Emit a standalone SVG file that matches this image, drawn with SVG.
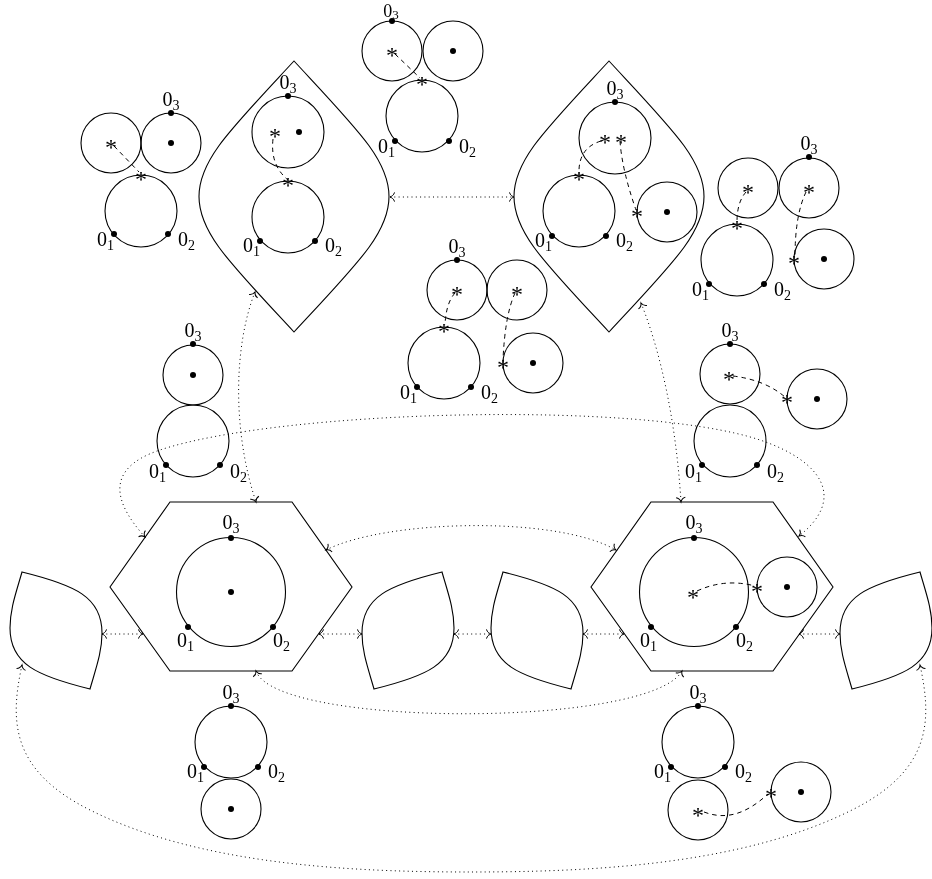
<svg xmlns="http://www.w3.org/2000/svg" width="932" height="879" viewBox="0 0 932 879">
<style>
.sh{fill:none;stroke:#000;stroke-width:1.1}
.dot{fill:#000}
.dash{fill:none;stroke:#000;stroke-width:1;stroke-dasharray:4.5 4}
.conn{fill:none;stroke:#000;stroke-width:1;stroke-dasharray:1 3.3;marker-start:url(#tip);marker-end:url(#tip)}
.lbl{font-family:"Liberation Serif",serif;font-size:20px;fill:#000;filter:url(#gray)}
.sub{font-size:14px}
.e{text-anchor:end}
.m{text-anchor:middle}
.ast{font-family:"Liberation Serif",serif;font-size:24px;text-anchor:middle;fill:#000;filter:url(#gray)}
</style>
<defs>
<filter id="gray" x="-50%" y="-50%" width="200%" height="200%"><feColorMatrix type="saturate" values="0"/></filter>
<marker id="tip" viewBox="-6 -6 8 12" markerWidth="8" markerHeight="12" refX="0" refY="0" orient="auto-start-reverse" markerUnits="userSpaceOnUse" overflow="visible">
<path d="M -4.5 -4.6 C -4 -2 -1.4 -0.4 0 0 C -1.4 0.4 -4 2 -4.5 4.6" fill="none" stroke="#000" stroke-width="1" stroke-dasharray="none"/>
</marker>
</defs>

<g id="connectors">
<path class="conn" d="M 390 197 L 514 197"/>
<path class="conn" d="M 255 292 C 234 345 232 430 256 502"/>
<path class="conn" d="M 641 303 C 660 350 676 420 681 502"/>
<path class="conn" d="M 145 537 C 118 507 100 470 160 450 C 280 410 640 400 760 440 C 825 462 845 500 799 536"/>
<path class="conn" d="M 326 550 C 385 520 555 515 616 550"/>
<path class="conn" d="M 102 634 L 143 634"/>
<path class="conn" d="M 319 634 L 362 634"/>
<path class="conn" d="M 454 634 L 491 634"/>
<path class="conn" d="M 583 634 L 624 634"/>
<path class="conn" d="M 799 634 L 840 634"/>
<path class="conn" d="M 256 671 C 276 728 650 728 682 671"/>
<path class="conn" d="M 22 665 C 10 720 10 770 90 810 C 200 865 350 872 471 872 C 592 872 742 865 852 810 C 932 770 932 720 920 665"/>
</g>

<g id="lensL">
<path class="sh" d="M 294 61 C 230 130 199 160 199 196.5 C 199 233 230 263 294 332 C 358 263 389 233 389 196.5 C 389 160 358 130 294 61 Z"/>
<circle class="sh" cx="288" cy="132" r="36"/>
<circle class="sh" cx="288" cy="217" r="36"/>
<circle class="dot" cx="288" cy="96" r="3"/>
<circle class="dot" cx="299" cy="132" r="3"/>
<circle class="dot" cx="260" cy="241" r="3"/>
<circle class="dot" cx="315" cy="241" r="3"/>
<path class="dash" d="M 273 139 Q 270 165 288 180"/>
<text class="ast" x="275" y="144">*</text>
<text class="ast" x="288" y="193">*</text>
<text class="lbl m" x="288" y="89">0<tspan class="sub" dy="4">3</tspan></text>
<text class="lbl e" x="260" y="252">0<tspan class="sub" dy="4">1</tspan></text>
<text class="lbl" x="325" y="252">0<tspan class="sub" dy="4">2</tspan></text>
</g>

<g id="lensR">
<path class="sh" d="M 609 61 C 545 130 514 160 514 196.5 C 514 233 545 263 609 332 C 673 263 704 233 704 196.5 C 704 160 673 130 609 61 Z"/>
<circle class="sh" cx="615" cy="138" r="36"/>
<circle class="sh" cx="579" cy="211" r="36"/>
<circle class="sh" cx="667" cy="212" r="30"/>
<circle class="dot" cx="615" cy="102" r="3"/>
<circle class="dot" cx="667" cy="212" r="3"/>
<circle class="dot" cx="552" cy="236" r="3"/>
<circle class="dot" cx="606" cy="236" r="3"/>
<path class="dash" d="M 601 141 Q 578 148 579 174"/>
<path class="dash" d="M 620 141 Q 622 170 636 210"/>
<text class="ast" x="605" y="150">*</text>
<text class="ast" x="621" y="150">*</text>
<text class="ast" x="579" y="187">*</text>
<text class="ast" x="637" y="224">*</text>
<text class="lbl m" x="615" y="95">0<tspan class="sub" dy="4">3</tspan></text>
<text class="lbl e" x="552" y="247">0<tspan class="sub" dy="4">1</tspan></text>
<text class="lbl" x="616" y="247">0<tspan class="sub" dy="4">2</tspan></text>
</g>

<g id="groupTop">
<circle class="sh" cx="392" cy="51" r="30"/>
<circle class="sh" cx="453" cy="51" r="30"/>
<circle class="sh" cx="422" cy="116" r="36"/>
<circle class="dot" cx="392" cy="21" r="3"/>
<circle class="dot" cx="453" cy="51" r="3"/>
<circle class="dot" cx="395" cy="141" r="3"/>
<circle class="dot" cx="449" cy="141" r="3"/>
<path class="dash" d="M 395 54 L 420 78"/>
<text class="ast" x="392" y="63">*</text>
<text class="ast" x="422" y="92">*</text>
<text class="lbl m" x="391" y="17" style="font-size:18px">0<tspan class="sub" dy="2" style="font-size:13px">3</tspan></text>
<text class="lbl e" x="395" y="153">0<tspan class="sub" dy="4">1</tspan></text>
<text class="lbl" x="459" y="153">0<tspan class="sub" dy="4">2</tspan></text>
</g>

<g id="groupTL">
<circle class="sh" cx="111" cy="143" r="30"/>
<circle class="sh" cx="171" cy="143" r="30"/>
<circle class="sh" cx="141" cy="211" r="36"/>
<circle class="dot" cx="171" cy="113" r="3"/>
<circle class="dot" cx="171" cy="143" r="3"/>
<circle class="dot" cx="114" cy="234" r="3"/>
<circle class="dot" cx="168" cy="234" r="3"/>
<path class="dash" d="M 114 146 L 139 172"/>
<text class="ast" x="111" y="155">*</text>
<text class="ast" x="141" y="187">*</text>
<text class="lbl m" x="171" y="106">0<tspan class="sub" dy="4">3</tspan></text>
<text class="lbl e" x="114" y="246">0<tspan class="sub" dy="4">1</tspan></text>
<text class="lbl" x="178" y="246">0<tspan class="sub" dy="4">2</tspan></text>
</g>

<g id="groupTR">
<circle class="sh" cx="748" cy="188" r="30"/>
<circle class="sh" cx="809" cy="188" r="30"/>
<circle class="sh" cx="737" cy="260" r="36"/>
<circle class="sh" cx="824" cy="259" r="30"/>
<circle class="dot" cx="809" cy="157" r="3"/>
<circle class="dot" cx="824" cy="259" r="3"/>
<circle class="dot" cx="709" cy="284" r="3"/>
<circle class="dot" cx="764" cy="284" r="3"/>
<path class="dash" d="M 746 192 Q 737 202 737 222"/>
<path class="dash" d="M 806 192 Q 795 215 795 257"/>
<text class="ast" x="748" y="200">*</text>
<text class="ast" x="809" y="200">*</text>
<text class="ast" x="737" y="236">*</text>
<text class="ast" x="794" y="271">*</text>
<text class="lbl m" x="809" y="150">0<tspan class="sub" dy="4">3</tspan></text>
<text class="lbl e" x="709" y="296">0<tspan class="sub" dy="4">1</tspan></text>
<text class="lbl" x="774" y="296">0<tspan class="sub" dy="4">2</tspan></text>
</g>

<g id="groupMid">
<circle class="sh" cx="457" cy="290" r="30"/>
<circle class="sh" cx="517" cy="290" r="30"/>
<circle class="sh" cx="444" cy="363" r="36"/>
<circle class="sh" cx="533" cy="363" r="30"/>
<circle class="dot" cx="457" cy="260" r="3"/>
<circle class="dot" cx="533" cy="363" r="3"/>
<circle class="dot" cx="417" cy="387" r="3"/>
<circle class="dot" cx="471" cy="387" r="3"/>
<path class="dash" d="M 455 293 Q 446 303 445 325"/>
<path class="dash" d="M 515 293 Q 505 315 503 360"/>
<text class="ast" x="457" y="302">*</text>
<text class="ast" x="517" y="302">*</text>
<text class="ast" x="444" y="339">*</text>
<text class="ast" x="503" y="375">*</text>
<text class="lbl m" x="457" y="253">0<tspan class="sub" dy="4">3</tspan></text>
<text class="lbl e" x="417" y="399">0<tspan class="sub" dy="4">1</tspan></text>
<text class="lbl" x="481" y="399">0<tspan class="sub" dy="4">2</tspan></text>
</g>

<g id="fig8L">
<circle class="sh" cx="193" cy="375" r="30"/>
<circle class="sh" cx="193" cy="441" r="36"/>
<circle class="dot" cx="193" cy="344" r="3"/>
<circle class="dot" cx="193" cy="375" r="3"/>
<circle class="dot" cx="166" cy="465" r="3"/>
<circle class="dot" cx="220" cy="465" r="3"/>
<text class="lbl m" x="193" y="337">0<tspan class="sub" dy="4">3</tspan></text>
<text class="lbl e" x="166" y="478">0<tspan class="sub" dy="4">1</tspan></text>
<text class="lbl" x="230" y="478">0<tspan class="sub" dy="4">2</tspan></text>
</g>

<g id="fig8R">
<circle class="sh" cx="730" cy="374" r="30"/>
<circle class="sh" cx="730" cy="441" r="36"/>
<circle class="sh" cx="817" cy="399" r="30"/>
<circle class="dot" cx="730" cy="344" r="3"/>
<circle class="dot" cx="817" cy="399" r="3"/>
<circle class="dot" cx="702" cy="465" r="3"/>
<circle class="dot" cx="757" cy="465" r="3"/>
<path class="dash" d="M 733 376 Q 765 380 785 397"/>
<text class="ast" x="729" y="387">*</text>
<text class="ast" x="787" y="410">*</text>
<text class="lbl m" x="730" y="337">0<tspan class="sub" dy="4">3</tspan></text>
<text class="lbl e" x="702" y="478">0<tspan class="sub" dy="4">1</tspan></text>
<text class="lbl" x="767" y="478">0<tspan class="sub" dy="4">2</tspan></text>
</g>

<g id="hexL">
<polygon class="sh" points="170,502 292,502 352,587 292,671 170,671 110,587"/>
<circle class="sh" cx="231" cy="592" r="54.5"/>
<circle class="dot" cx="231" cy="538" r="3"/>
<circle class="dot" cx="231" cy="592" r="3"/>
<circle class="dot" cx="188" cy="627" r="3"/>
<circle class="dot" cx="273" cy="627" r="3"/>
<text class="lbl m" x="231" y="529">0<tspan class="sub" dy="4">3</tspan></text>
<text class="lbl e" x="194" y="647">0<tspan class="sub" dy="4">1</tspan></text>
<text class="lbl" x="273" y="647">0<tspan class="sub" dy="4">2</tspan></text>
</g>

<g id="hexR">
<polygon class="sh" points="651,502 773,502 833,587 773,671 651,671 591,587"/>
<circle class="sh" cx="694" cy="592" r="54.5"/>
<circle class="sh" cx="787" cy="587" r="30"/>
<circle class="dot" cx="694" cy="538" r="3"/>
<circle class="dot" cx="787" cy="587" r="3"/>
<circle class="dot" cx="651" cy="627" r="3"/>
<circle class="dot" cx="736" cy="627" r="3"/>
<path class="dash" d="M 697 591 Q 725 578 755 586"/>
<text class="ast" x="693" y="605">*</text>
<text class="ast" x="757" y="599">*</text>
<text class="lbl m" x="694" y="529">0<tspan class="sub" dy="4">3</tspan></text>
<text class="lbl e" x="657" y="647">0<tspan class="sub" dy="4">1</tspan></text>
<text class="lbl" x="736" y="647">0<tspan class="sub" dy="4">2</tspan></text>
</g>

<g id="petal1"><path class="sh" d="M 22 572 C 75 585 102 597 102 633 C 102 652 96 668 90 689 C 37 676 10 664 10 628 C 10 609 16 593 22 572 Z"/></g>
<g id="petal2"><path class="sh" transform="translate(464 0) scale(-1 1)" d="M 22 572 C 75 585 102 597 102 633 C 102 652 96 668 90 689 C 37 676 10 664 10 628 C 10 609 16 593 22 572 Z"/></g>
<g id="petal3"><path class="sh" transform="translate(481 0)" d="M 22 572 C 75 585 102 597 102 633 C 102 652 96 668 90 689 C 37 676 10 664 10 628 C 10 609 16 593 22 572 Z"/></g>
<g id="petal4"><path class="sh" transform="translate(942 0) scale(-1 1)" d="M 22 572 C 75 585 102 597 102 633 C 102 652 96 668 90 689 C 37 676 10 664 10 628 C 10 609 16 593 22 572 Z"/></g>

<g id="groupBL">
<circle class="sh" cx="231" cy="742" r="36"/>
<circle class="sh" cx="231" cy="809" r="30"/>
<circle class="dot" cx="231" cy="706" r="3"/>
<circle class="dot" cx="231" cy="809" r="3"/>
<circle class="dot" cx="204" cy="767" r="3"/>
<circle class="dot" cx="258" cy="767" r="3"/>
<text class="lbl m" x="231" y="699">0<tspan class="sub" dy="4">3</tspan></text>
<text class="lbl e" x="204" y="778">0<tspan class="sub" dy="4">1</tspan></text>
<text class="lbl" x="268" y="778">0<tspan class="sub" dy="4">2</tspan></text>
</g>

<g id="groupBR">
<circle class="sh" cx="698" cy="742" r="36"/>
<circle class="sh" cx="698" cy="810" r="30"/>
<circle class="sh" cx="801" cy="792" r="30"/>
<circle class="dot" cx="698" cy="706" r="3"/>
<circle class="dot" cx="801" cy="792" r="3"/>
<circle class="dot" cx="671" cy="767" r="3"/>
<circle class="dot" cx="725" cy="767" r="3"/>
<path class="dash" d="M 704 812 C 725 820 745 815 768 794"/>
<text class="ast" x="698" y="823">*</text>
<text class="ast" x="771" y="804">*</text>
<text class="lbl m" x="698" y="699">0<tspan class="sub" dy="4">3</tspan></text>
<text class="lbl e" x="671" y="778">0<tspan class="sub" dy="4">1</tspan></text>
<text class="lbl" x="735" y="778">0<tspan class="sub" dy="4">2</tspan></text>
</g>
</svg>
